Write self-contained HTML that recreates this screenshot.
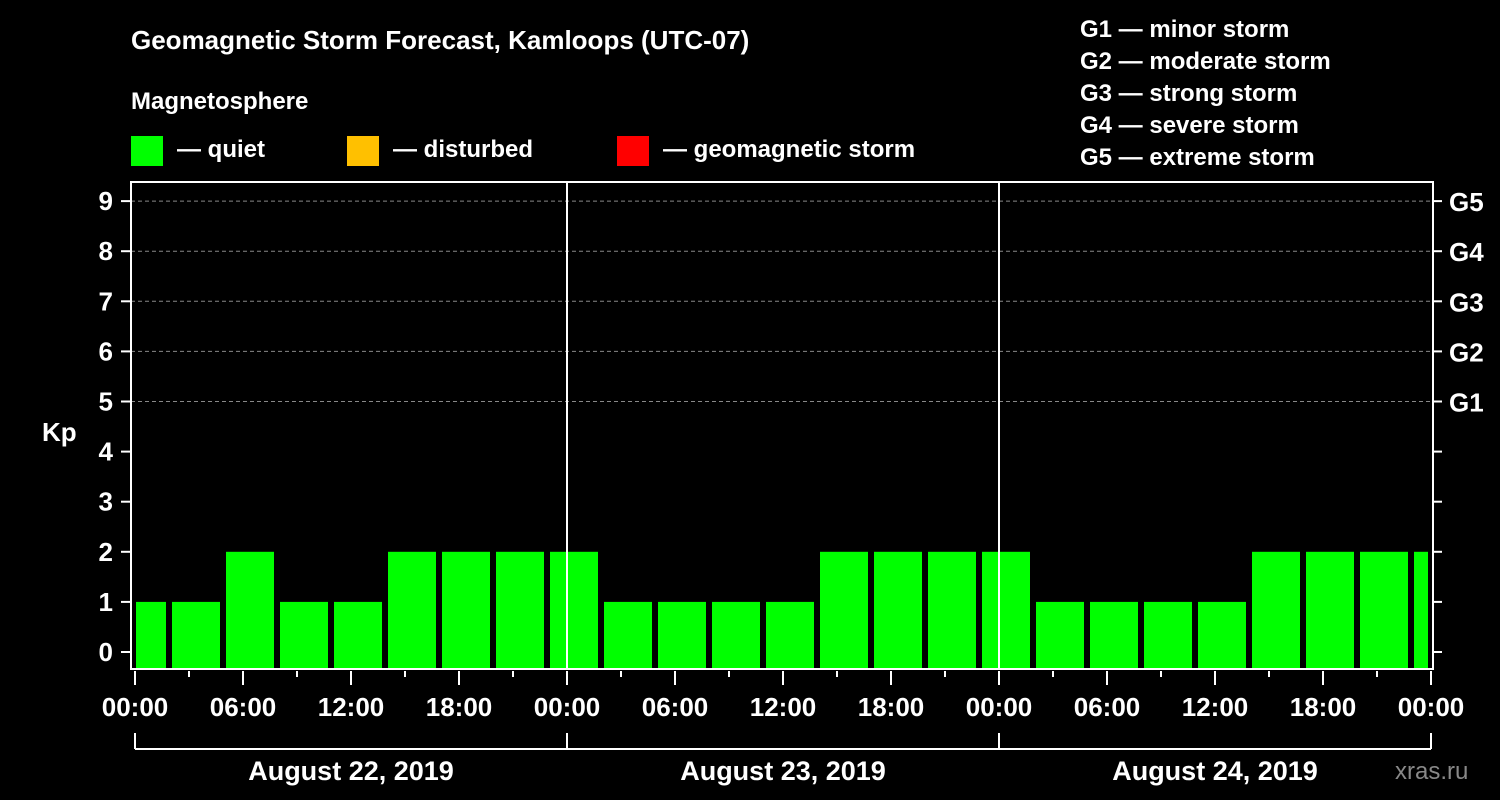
<!DOCTYPE html>
<html><head><meta charset="utf-8"><style>
body{margin:0;background:#000;}
svg{display:block;font-family:"Liberation Sans",sans-serif;font-weight:bold;}
</style></head><body>
<svg width="1500" height="800" viewBox="0 0 1500 800">
<rect x="0" y="0" width="1500" height="800" fill="#000"/>
<text x="131" y="49" fill="#fff" font-size="26">Geomagnetic Storm Forecast, Kamloops (UTC-07)</text>
<text x="131" y="109" fill="#fff" font-size="24">Magnetosphere</text>
<g><rect x="131" y="136" width="32" height="30" fill="#00ff00"/><text x="177" y="157" fill="#fff" font-size="24">— quiet</text></g>
<g><rect x="347" y="136" width="32" height="30" fill="#ffc000"/><text x="393" y="157" fill="#fff" font-size="24">— disturbed</text></g>
<g><rect x="617" y="136" width="32" height="30" fill="#ff0000"/><text x="663" y="157" fill="#fff" font-size="24">— geomagnetic storm</text></g>
<g fill="#fff" font-size="24">
<text x="1080" y="37">G1 — minor storm</text>
<text x="1080" y="69">G2 — moderate storm</text>
<text x="1080" y="101">G3 — strong storm</text>
<text x="1080" y="133">G4 — severe storm</text>
<text x="1080" y="165">G5 — extreme storm</text>
</g>
<text x="42" y="441" fill="#fff" font-size="26">Kp</text>
<text x="1395" y="779" fill="#888" font-size="24" font-weight="normal">xras.ru</text>
<g id="plot"></g>
</svg>
<script>
const kpValues=[1,1,2,1,1,2,2,2,2,1,1,1,1,2,2,2,2,1,1,1,1,2,2,2,2];
const yTicks=[0,1,2,3,4,5,6,7,8,9];
const gLabels=["G1","G2","G3","G4","G5"];
const dayLabels=["August 22, 2019","August 23, 2019","August 24, 2019"];
const hourLabels=["00:00","06:00","12:00","18:00"];
const NS="http://www.w3.org/2000/svg";
const g=document.getElementById('plot');
const L=131,R=1433,T=182,B=669,X0=135,DAY=432;
const y=v=>652-v*50.1;
const x=h=>X0+h*DAY/24;
function mk(t,a){const e=document.createElementNS(NS,t);for(const k in a)e.setAttribute(k,a[k]);g.appendChild(e);return e;}
// gridlines
yTicks.forEach(v=>{
 if(v>=5){const l=mk('line',{x1:L,x2:R,y1:y(v),y2:y(v),stroke:'#888','stroke-dasharray':'4,3','stroke-width':1});
 
 }
 const tk=mk('line',{x1:121,x2:L,y1:y(v),y2:y(v),stroke:'#fff','stroke-width':2});
 
 
 const tl=mk('text',{x:113,y:y(v)+9,fill:'#fff','font-size':26,'text-anchor':'end'});tl.textContent=v;
 
 
 const rt=mk('line',{x1:R,x2:1442,y1:y(v),y2:y(v),stroke:'#fff','stroke-width':2});
 
 
});
gLabels.forEach((s,i)=>{const t=mk('text',{x:1449,y:y(i+5)+10,fill:'#fff','font-size':26});t.textContent=s;
 
 });
// bars
kpValues.forEach((v,i)=>{
 let x1=x(-1+3*i)+1,x2=x1+48;
 x1=Math.max(x1,L+5);x2=Math.min(x2,R-5);
 const c=v>=5?'#ff0000':(v>=4?'#ffc000':'#00ff00');
 const b=mk('rect',{x:x1,y:y(v),width:x2-x1,height:B-1-y(v),fill:c});
 
 
});
// day separators
for(let d=1;d<3;d++){const l=mk('line',{x1:x(24*d),x2:x(24*d),y1:T,y2:B,stroke:'#fff','stroke-width':2});
 
 }
// frame
const f=mk('rect',{x:L,y:T,width:R-L,height:B-T,fill:'none',stroke:'#fff','stroke-width':2});


// x ticks
for(let h=0;h<=72;h+=3){
 const major=h%6===0;
 const t=mk('line',{x1:x(h),x2:x(h),y1:B+2,y2:major?685:677,stroke:'#fff','stroke-width':2});
 
 
 if(major){const lb=mk('text',{x:x(h),y:716,fill:'#fff','font-size':26,'text-anchor':'middle'});lb.textContent=hourLabels[(h%24)/6];
 
 }
}
// date bracket
const bl=mk('line',{x1:x(0),x2:x(72),y1:749,y2:749,stroke:'#fff','stroke-width':2});


for(let d=0;d<=3;d++){const l=mk('line',{x1:x(24*d),x2:x(24*d),y1:733,y2:749,stroke:'#fff','stroke-width':2});
 
 }
dayLabels.forEach((s,d)=>{const t=mk('text',{x:x(24*d+12),y:780,fill:'#fff','font-size':27,'text-anchor':'middle'});t.textContent=s;
 
 });
</script>
</body></html>
